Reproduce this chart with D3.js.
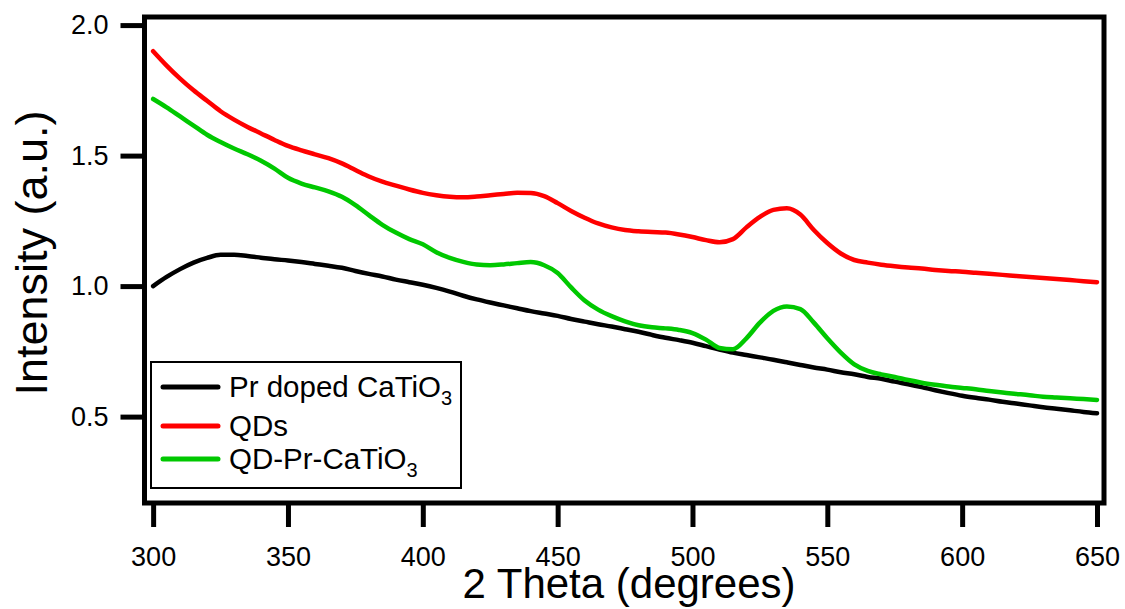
<!DOCTYPE html>
<html>
<head>
<meta charset="utf-8">
<script src="https://cdn.jsdelivr.net/npm/d3@7"></script>
<style>
  body { margin: 0; background: #fff; }
  text { font-family: "Liberation Sans", Arial, sans-serif; fill: #000; }
</style>
</head>
<body>
<div id="chart"></div>
<script>
// 2 theta grid (degrees)
var theta = [300, 305, 310, 315, 320, 325, 330, 335, 340, 345, 350, 355, 360, 365, 370, 375, 380, 385, 390, 395,
    400, 405, 410, 415, 420, 425, 430, 435, 440, 445, 450, 455, 460, 465, 470, 475, 480, 485, 490, 495,
    500, 505, 510, 515, 520, 525, 530, 535, 540, 545, 550, 555, 560, 565, 570, 575, 580, 585, 590, 595,
    600, 605, 610, 615, 620, 625, 630, 635, 640, 645, 650]

var prDoped = [1.000, 1.035, 1.065, 1.090, 1.108, 1.120, 1.120, 1.115, 1.109, 1.103, 1.098, 1.092, 1.085, 1.078, 1.070, 1.058, 1.047, 1.037, 1.025, 1.015,
    1.005, 0.993, 0.979, 0.963, 0.949, 0.937, 0.926, 0.915, 0.904, 0.895, 0.886, 0.874, 0.864, 0.854, 0.845, 0.835, 0.825, 0.813, 0.802, 0.793,
    0.783, 0.770, 0.757, 0.745, 0.736, 0.727, 0.718, 0.708, 0.698, 0.688, 0.680, 0.670, 0.662, 0.652, 0.645, 0.634, 0.624, 0.613, 0.601, 0.590,
    0.580, 0.572, 0.565, 0.557, 0.550, 0.543, 0.536, 0.530, 0.524, 0.518, 0.513]

var qds = [1.900, 1.845, 1.795, 1.750, 1.710, 1.670, 1.638, 1.610, 1.585, 1.560, 1.537, 1.520, 1.505, 1.490, 1.470, 1.445, 1.420, 1.400, 1.385, 1.370,
    1.357, 1.348, 1.342, 1.340, 1.343, 1.348, 1.353, 1.358, 1.357, 1.345, 1.318, 1.288, 1.262, 1.240, 1.225, 1.215, 1.210, 1.207, 1.205, 1.198,
    1.188, 1.176, 1.168, 1.180, 1.225, 1.265, 1.292, 1.298, 1.274, 1.215, 1.165, 1.125, 1.100, 1.090, 1.082, 1.076, 1.071, 1.067, 1.062, 1.058,
    1.055, 1.051, 1.047, 1.043, 1.039, 1.035, 1.031, 1.027, 1.023, 1.019, 1.015]

var qdPr = [1.717, 1.685, 1.650, 1.615, 1.580, 1.552, 1.527, 1.505, 1.480, 1.450, 1.415, 1.393, 1.378, 1.363, 1.342, 1.310, 1.272, 1.235, 1.205, 1.180,
    1.160, 1.130, 1.108, 1.093, 1.083, 1.080, 1.083, 1.088, 1.092, 1.080, 1.050, 0.995, 0.945, 0.910, 0.885, 0.865, 0.850, 0.842, 0.838, 0.832,
    0.820, 0.795, 0.763, 0.758, 0.800, 0.860, 0.905, 0.922, 0.912, 0.860, 0.800, 0.745, 0.700, 0.675, 0.662, 0.652, 0.640, 0.630, 0.622, 0.615,
    0.610, 0.605, 0.598, 0.592, 0.587, 0.582, 0.576, 0.573, 0.570, 0.567, 0.564]

var xTicks = [300, 350, 400, 450, 500, 550, 600, 650]
var yTicks = [0.5, 1.0, 1.5, 2.0]

// legend entries: main text, subscript, colour
var legendNames = ["Pr doped CaTiO", "QDs", "QD-Pr-CaTiO"]
var legendSubs = ["3", "", "3"]
var colors = ["#000000", "#ff0000", "#00c800"]
var seriesList = [prDoped, qds, qdPr]

const W = 1125, H = 609
const plotLeft = 144.5, plotRight = 1104, plotTop = 17, plotBottom = 503

var svg = d3.select("#chart")
    .append("svg")
    .attr("width", W)
    .attr("height", H)

var x = d3.scaleLinear().domain([296.8, 652.6]).range([plotLeft, plotRight])
var y = d3.scaleLinear().domain([0.169, 2.031]).range([plotBottom, plotTop])

var line = d3.line()
    .x((d, i) => x(theta[i]))
    .y(d => y(d))
    .curve(d3.curveMonotoneX)

// curves, drawn in the legend's order
seriesList.forEach(function (s, i) {
    svg.append("path")
        .datum(s)
        .attr("d", line)
        .attr("fill", "none")
        .attr("stroke", colors[i])
        .attr("stroke-width", 4.5)
        .attr("stroke-linecap", "round")
        .attr("stroke-linejoin", "round")
})

// axes
var yAxis = svg.append("g")
    .attr("transform", "translate(" + plotLeft + ",0)")
    .call(d3.axisLeft(y).tickValues(yTicks).tickFormat(d3.format(".1f")).tickSize(24).tickPadding(12))
var xAxis = svg.append("g")
    .attr("transform", "translate(0," + plotBottom + ")")
    .call(d3.axisBottom(x).tickValues(xTicks).tickFormat(d3.format("d")).tickSize(24).tickPadding(20))

svg.selectAll(".domain").remove()
svg.selectAll(".tick line").attr("stroke", "#000").attr("stroke-width", 5)
svg.selectAll(".tick text")
    .style("font-family", "'Liberation Sans', Arial, sans-serif")
    .style("font-size", "27px")
    .attr("fill", "#000")
xAxis.selectAll(".tick text").attr("dy", null).attr("y", 63)

// frame
svg.append("rect")
    .attr("x", plotLeft)
    .attr("y", plotTop)
    .attr("width", plotRight - plotLeft)
    .attr("height", plotBottom - plotTop)
    .attr("fill", "none")
    .attr("stroke", "#000")
    .attr("stroke-width", 5)

// axis titles
svg.append("text")
    .attr("transform", "translate(47,253) rotate(-90)")
    .attr("text-anchor", "middle")
    .style("font-size", "45px")
    .text("Intensity (a.u.)")

svg.append("text")
    .attr("x", 629)
    .attr("y", 598)
    .attr("text-anchor", "middle")
    .style("font-size", "42px")
    .text("2 Theta (degrees)")

// legend
var legend = svg.append("g")
legend.append("rect")
    .attr("x", 151)
    .attr("y", 362)
    .attr("width", 310)
    .attr("height", 126)
    .attr("fill", "#fff")
    .attr("stroke", "#000")
    .attr("stroke-width", 2)

var rowY = 387
legendNames.forEach(function (name, i) {
    legend.append("line")
        .attr("x1", 163).attr("x2", 218)
        .attr("y1", rowY).attr("y2", rowY)
        .attr("stroke", colors[i])
        .attr("stroke-width", 5)
        .attr("stroke-linecap", "round")
    var t = legend.append("text")
        .attr("x", 229)
        .attr("y", rowY + 10)
        .style("font-size", "29.5px")
        .text(name)
    if (legendSubs[i]) {
        t.append("tspan")
            .attr("dy", 8)
            .style("font-size", "20px")
            .text(legendSubs[i])
    }
    // rows with a subscript take a bit more room
    rowY += legendSubs[i] ? 39 : 33
})
</script>
</body>
</html>
